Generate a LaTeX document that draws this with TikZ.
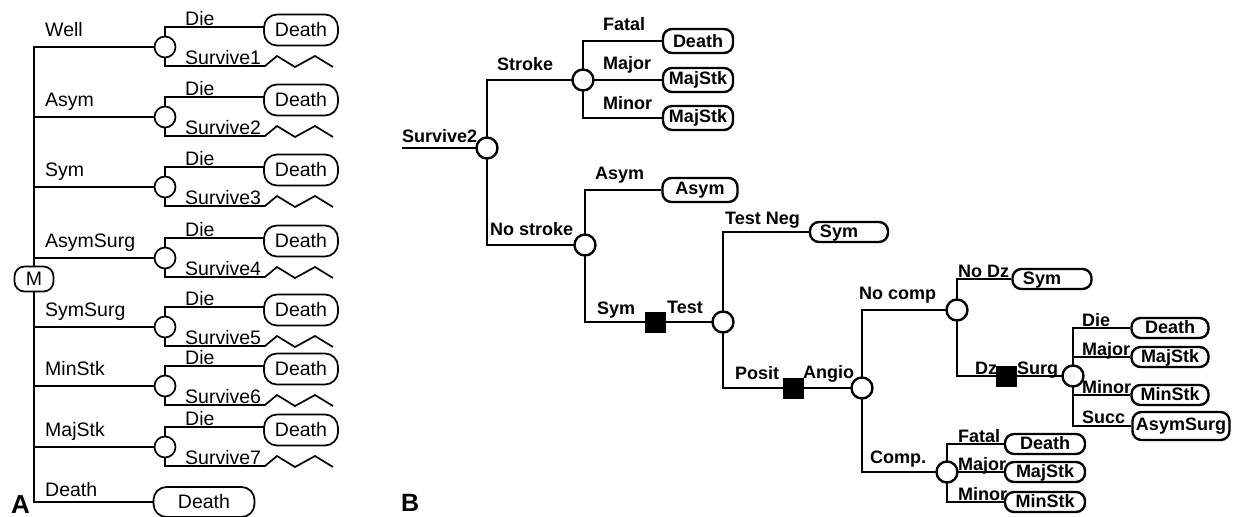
\documentclass[tikz,border=0pt]{standalone}
\usepackage{fontspec}
\setmainfont{Liberation Sans}
\usetikzlibrary{backgrounds}
\newcommand\lowtxt[1]{\smash{\raisebox{-5pt}{#1}}}
\begin{document}
\begin{tikzpicture}[x=1pt,y=-1pt,
  lt/.style={font=\fontsize{19.5}{22}\selectfont, inner sep=0pt},
  rt/.style={font=\bfseries\fontsize{18}{21}\selectfont, inner sep=0pt},
  lline/.style={line width=1.7pt},
  rline/.style={line width=2.7pt},
  lchance/.style={circle,draw,line width=1.7pt,fill=white,minimum size=21pt,inner sep=0pt},
  rchance/.style={circle,draw,line width=2.4pt,fill=white,minimum size=21pt,inner sep=0pt},
  dec/.style={rectangle,fill=black,minimum size=21pt,inner sep=0pt},
  lbox/.style={draw,line width=1.7pt,rounded corners=13pt,fill=white,minimum width=74pt,minimum height=31pt,inner sep=0pt,font=\fontsize{19.5}{22}\selectfont},
  rbox/.style={draw,line width=2.4pt,rounded corners=9pt,fill=white,minimum width=#1,minimum height=24pt,inner sep=0pt,font=\bfseries\fontsize{18}{21}\selectfont},
  rbox/.default=72pt,
  lowbox/.style={rbox=#1,minimum height=20pt},
  lowbox/.default=78pt
]
\useasboundingbox (0,0) rectangle (1235,517);

% ---------------- Panel A ----------------
\node[draw,line width=1.7pt,rounded corners=10pt,fill=white,minimum width=39pt,minimum height=25pt,inner sep=0pt,font=\fontsize{19.5}{22}\selectfont] (M) at (34,279) {M};
\foreach \n/\y/\lab in {1/47/Well,2/117/Asym,3/187/Sym,4/258/AsymSurg,5/327/SymSurg,6/386/MinStk,7/447/MajStk}{
  \node[lchance] (c\n) at (165,\y) {};
  \node[lbox] (d\n) at (301,\y-17) {Death};
  \coordinate (e\n) at (264,\y-20);
  \coordinate (z\n) at (265,\y+19);
  \node[lt,anchor=base west] (lb\n) at (45,\y-11) {\lab};
  \node[lt,anchor=base west] (ld\n) at (185,\y-22) {Die};
  \node[lt,anchor=base west] (ls\n) at (185,\y+17) {Survive\n};
}
\node[lbox,minimum width=101pt,minimum height=30pt] (dd) at (204,502) {Death};
\node[lt,anchor=base west] (lbd) at (45,496) {Death};
\node[font=\bfseries\fontsize{26}{28}\selectfont,inner sep=0pt,anchor=base west] (A) at (11,513) {A};

\begin{pgfonlayer}{background}
\foreach \n in {1,...,7}{
  \draw[lline] (M.center) |- (c\n.center);
  \draw[lline] (c\n.center) |- (e\n);
  \draw[lline] (c\n.center) |- (z\n) -- ++(12,-10) -- ++(18,11) -- ++(20,-11) -- ++(18,11);
}
\draw[lline] (M.center) |- (dd.west);
\end{pgfonlayer}

% ---------------- Panel B ----------------
\node[font=\bfseries\fontsize{25}{28}\selectfont,inner sep=0pt,anchor=base west] (B) at (401,511) {B};
\coordinate (s2) at (402,148);
\node[rchance] (C1) at (487,148) {};
\node[rchance] (C2) at (583,80) {};
\node[rchance] (C3) at (585,245) {};
\node[dec] (S1) at (655,322) {};
\node[rchance] (C4) at (723,322) {};
\node[dec] (S2) at (793,388) {};
\node[rchance] (C5) at (862,388) {};
\node[rchance] (C6) at (957,310) {};
\node[dec] (S3) at (1006,376) {};
\node[rchance] (C7) at (1073,376) {};
\node[rchance] (C8) at (947,472) {};

\node[rbox=70pt] (rb1) at (698,41) {Death};
\node[rbox=70pt] (rb2) at (698,80) {MajStk};
\node[rbox=70pt] (rb3) at (698,118) {MajStk};
\node[rbox=75pt] (rb4) at (700,190) {Asym};
\node[lowbox=78pt] (rb5) at (849,232) {\lowtxt{Sym\hspace{20pt}}};
\node[lowbox=79pt] (rb6) at (1052,279) {\lowtxt{Sym\hspace{20pt}}};
\node[lowbox=77pt] (rb7) at (1170,328) {\lowtxt{Death}};
\node[lowbox=77pt] (rb8) at (1170,357) {\lowtxt{MajStk}};
\node[lowbox=77pt] (rb9) at (1170,395) {\lowtxt{MinStk}};
\node[rbox=97pt,minimum height=28pt] (rb10) at (1181,426) {AsymSurg};
\node[lowbox=80pt] (rb11) at (1045,444) {\lowtxt{Death}};
\node[lowbox=80pt] (rb12) at (1045,472) {\lowtxt{MajStk}};
\node[lowbox=80pt] (rb13) at (1045,502) {\lowtxt{MinStk}};

\node[rt,anchor=base west] (t1) at (402,142) {Survive2};
\node[rt,anchor=base west] (t2) at (497,70) {Stroke};
\node[rt,anchor=base west] (t3) at (490,235) {No stroke};
\node[rt,anchor=base west] (t4) at (603,30) {Fatal};
\node[rt,anchor=base west] (t5) at (603,69) {Major};
\node[rt,anchor=base west] (t6) at (603,109) {Minor};
\node[rt,anchor=base west] (t7) at (595,179) {Asym};
\node[rt,anchor=base west] (t8) at (597,314) {Sym};
\node[rt,anchor=base west] (t9) at (667,313) {Test};
\node[rt,anchor=base west] (t10) at (725,224) {Test Neg};
\node[rt,anchor=base west] (t11) at (735,379) {Posit};
\node[rt,anchor=base west] (t12) at (803,378) {Angio};
\node[rt,anchor=base west] (t13) at (859,299) {No comp};
\node[rt,anchor=base west] (t14) at (958,277) {No Dz};
\node[rt,anchor=base west] (t15) at (975,374) {Dz};
\node[rt,anchor=base west] (t16) at (1017,374) {Surg};
\node[rt,anchor=base west] (t17) at (1082,326) {Die};
\node[rt,anchor=base west] (t18) at (1082,355) {Major};
\node[rt,anchor=base west] (t19) at (1082,393) {Minor};
\node[rt,anchor=base west] (t20) at (1082,423) {Succ};
\node[rt,anchor=base west] (t21) at (870,463) {Comp.};
\node[rt,anchor=base west] (t22) at (958,442) {Fatal};
\node[rt,anchor=base west] (t23) at (958,470) {Major};
\node[rt,anchor=base west] (t24) at (958,500) {Minor};

\begin{pgfonlayer}{background}
\draw[rline] (s2) -- (C1.center);
\draw[rline] (C1.center) |- (C2.center);
\draw[rline] (C1.center) |- (C3.center);
\draw[rline] (C2.center) |- (rb1.west);
\draw[rline] (C2.center) -- (rb2.west);
\draw[rline] (C2.center) |- (rb3.west);
\draw[rline] (C3.center) |- (rb4.west);
\draw[rline] (C3.center) |- (S1.center);
\draw[rline] (S1.center) -- (C4.center);
\draw[rline] (C4.center) |- (rb5.west);
\draw[rline] (C4.center) |- (S2.center);
\draw[rline] (S2.center) -- (C5.center);
\draw[rline] (C5.center) |- (C6.center);
\draw[rline] (C5.center) |- (C8.center);
\draw[rline] (C6.center) |- (rb6.west);
\draw[rline] (C6.center) |- (S3.center);
\draw[rline] (S3.center) -- (C7.center);
\foreach \b in {rb7,rb8,rb9,rb10}{\draw[rline] (C7.center) |- (\b.west);}
\foreach \b in {rb11,rb12,rb13}{\draw[rline] (C8.center) |- (\b.west);}
\end{pgfonlayer}
\end{tikzpicture}
\end{document}
